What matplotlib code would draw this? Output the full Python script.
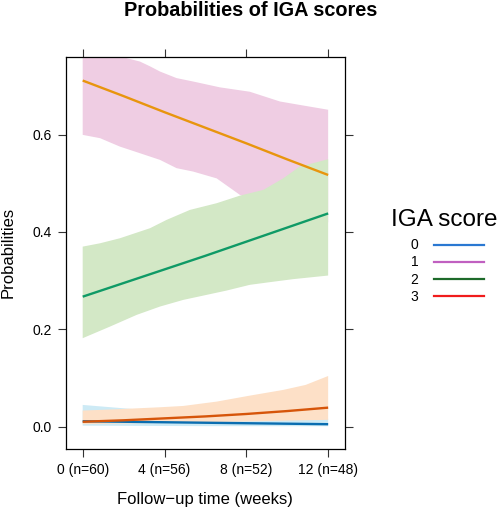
import numpy as np
import matplotlib
matplotlib.use("Agg")
import matplotlib.pyplot as plt
from matplotlib.lines import Line2D

plt.rcParams['font.family'] = ['Liberation Sans', 'DejaVu Sans']

# x axis
tick_weeks = [0, 4, 8, 12]
tick_labels = ['0 (n=60)', '4 (n=56)', '8 (n=52)', '12 (n=48)']

# estimated probability curves
line_weeks = [0, 2, 4, 6, 8, 10, 12]
p0 = [0.011, 0.010, 0.009, 0.008, 0.007, 0.006, 0.005]
p1 = [0.711, 0.679, 0.646, 0.614, 0.582, 0.549, 0.517]
p2 = [0.267, 0.295, 0.323, 0.351, 0.380, 0.409, 0.438]
p3 = [0.010, 0.013, 0.017, 0.021, 0.026, 0.032, 0.039]

# confidence bands (upper / lower edges)
b0_up_w = [0, 2.56, 6, 12]
b0_up = [0.0446, 0.0357, 0.025, 0.016]
b0_lo_w = [0, 6, 12]
b0_lo = [0.002, 0.001, 0.0008]

b1_up_w = [0, 1.9, 2.15, 2.8, 3.3, 3.78, 4.59, 5.40, 6.71, 8.17, 9.64, 10.6, 12]
b1_up = [0.78, 0.765, 0.757, 0.750, 0.740, 0.7295, 0.716, 0.709, 0.697, 0.688, 0.668, 0.661, 0.651]
b1_lo_w = [0, 0.85, 1.82, 2.8, 3.78, 4.59, 5.40, 6.55, 7.69, 9.0, 10.5, 12]
b1_lo = [0.5994, 0.5926, 0.5753, 0.5617, 0.548, 0.531, 0.524, 0.510, 0.476, 0.455, 0.44, 0.42]

b2_up_w = [0, 0.85, 1.82, 3.29, 4.1, 5.24, 6.55, 7.69, 8.83, 9.8, 10.6, 12]
b2_up = [0.3698, 0.3767, 0.387, 0.4076, 0.4247, 0.4452, 0.459, 0.4746, 0.4863, 0.510, 0.534, 0.5494]
b2_lo_w = [0, 1.34, 2.64, 3.78, 4.92, 6.06, 7.04, 8.17, 9.15, 10.29, 12]
b2_lo = [0.1817, 0.2056, 0.2296, 0.2467, 0.2604, 0.2707, 0.2796, 0.2913, 0.2968, 0.303, 0.3104]

b3_up_w = [0, 1.66, 3.78, 4.92, 6.55, 8.17, 9.8, 10.9, 12]
b3_up = [0.033, 0.0357, 0.0398, 0.0425, 0.0514, 0.0637, 0.0754, 0.0857, 0.104]
b3_lo_w = [0, 6, 12]
b3_lo = [0.005, 0.009, 0.014]

band_cols = ['#cdeaf5', '#efcde3', '#d3e8c6', '#fde0c7']
line_cols = ['#0a6db0', '#e8950e', '#0f9a66', '#d6550a']
legend_cols = ['#2a78d2', '#c060c0', '#1d6a2a', '#f01c1c']
scores = ['0', '1', '2', '3']

fig = plt.figure(figsize=(5.02, 5.08), dpi=100)
ax = fig.add_axes([0.1309, 0.1161, 0.6871 - 0.1309, 0.8884 - 0.1161])

bands = [(b0_up_w, b0_up, b0_lo_w, b0_lo), (b1_up_w, b1_up, b1_lo_w, b1_lo),
         (b2_up_w, b2_up, b2_lo_w, b2_lo), (b3_up_w, b3_up, b3_lo_w, b3_lo)]
for (uw, u, lw, l), c in zip(bands, band_cols):
    xs = list(uw) + list(lw)[::-1]
    ys = list(u) + list(l)[::-1]
    ax.fill(xs, ys, color=c, lw=0)

for p, c in zip([p0, p1, p2, p3], line_cols):
    ax.plot(line_weeks, p, color=c, lw=1.7, solid_capstyle='butt')

ax.set_xlim(-0.83, 12.82)
ax.set_ylim(-0.046, 0.76)
ax.set_xticks(tick_weeks)
ax.set_xticklabels(tick_labels)
ax.set_yticks([0.0, 0.2, 0.4, 0.6])
ax.set_yticklabels(['0.0', '0.2', '0.4', '0.6'])
ax.tick_params(direction='out', length=5.8, width=0.8, labelsize=10, pad=4,
               top=True, right=True, labeltop=False, labelright=False, color='#333333')
for s in ax.spines.values():
    s.set_linewidth(0.9)
ax.set_xlabel('Follow\u2212up time (weeks)', fontsize=12, labelpad=11)
ax.set_ylabel('Probabilities', fontsize=12, labelpad=12)
fig.text(0.5, 1 - 10 / 508, 'Probabilities of IGA scores', ha='center', va='center',
         fontsize=14.3, fontweight='bold')

# legend: title as its own text, entries below it
fig.text(444 / 502, 1 - 220 / 508, 'IGA score', ha='center', va='center', fontsize=17.5)
handles = [Line2D([], [], color=c, lw=1.6) for c in legend_cols]
leg = fig.legend(handles, scores, loc='center',
                 bbox_to_anchor=(447 / 502, 1 - 271 / 508), frameon=False,
                 markerfirst=False, fontsize=10, borderpad=0, borderaxespad=0,
                 handlelength=3.6, handletextpad=1.1, labelspacing=0.22)

fig.savefig('out.png', dpi=100)
